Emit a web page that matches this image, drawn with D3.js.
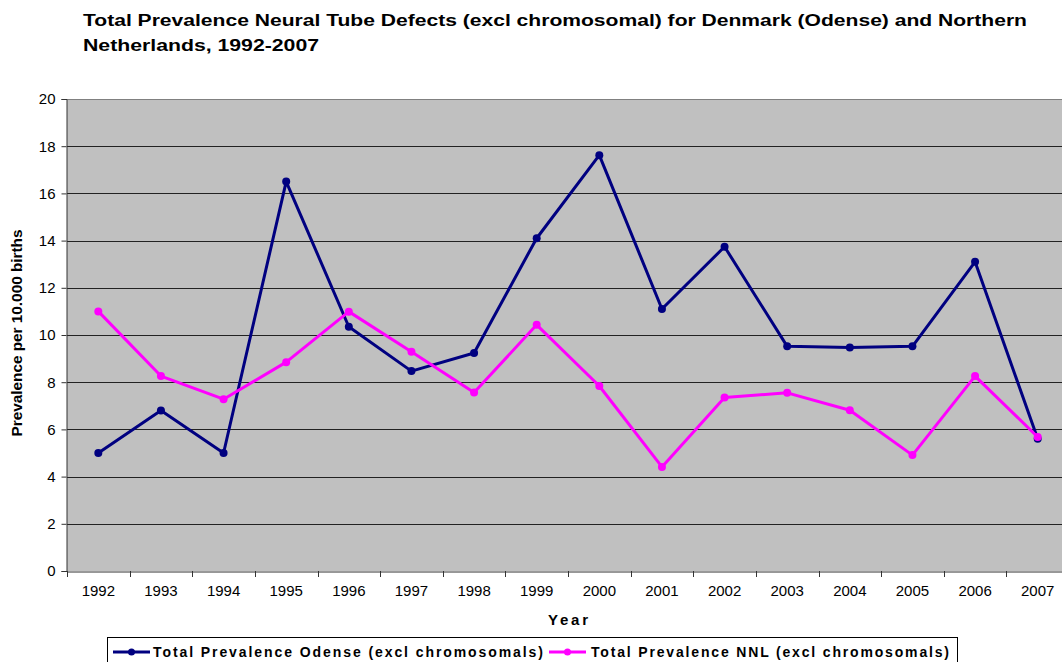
<!DOCTYPE html>
<html>
<head>
<meta charset="utf-8">
<title>Neural Tube Defects</title>
<style>
    body { margin: 0; background: #fff; font-family: "Liberation Sans", Arial, sans-serif; }
    svg text { fill: #000; }
</style>
<script src="https://d3js.org/d3.v7.min.js"></script>
</head>
<body>
<svg id="chart" width="1062" height="662"></svg>
<script>
var years = ["1992", "1993", "1994", "1995", "1996", "1997", "1998", "1999",
             "2000", "2001", "2002", "2003", "2004", "2005", "2006", "2007"];
var odense = [5.0, 6.8, 5.0, 16.5, 10.35, 8.47, 9.24, 14.1, 17.62, 11.1, 13.74, 9.52, 9.47, 9.52, 13.1, 5.6];
var nnl = [11.0, 8.26, 7.28, 8.85, 10.99, 9.29, 7.56, 10.43, 7.84, 4.41, 7.35, 7.55, 6.81, 4.91, 8.26, 5.68];
var yTicks = [0, 2, 4, 6, 8, 10, 12, 14, 16, 18, 20];
var seriesNames = ["Total Prevalence Odense (excl chromosomals)", "Total Prevalence NNL (excl chromosomals)"];
var seriesColors = ["#000080", "#ff00ff"];

var svg = d3.select("#chart");
var plot = { left: 67, top: 99, right: 1069, bottom: 571 };

var x = d3.scaleBand().domain(years).range([plot.left, plot.right]);
var y = d3.scaleLinear().domain([0, 20]).range([plot.bottom, plot.top]);

// title
var title = svg.append("text")
    .attr("x", 83)
    .attr("font-size", "16px")
    .attr("font-weight", "bold");
title.append("tspan").attr("x", 83).attr("y", 26)
    .attr("textLength", 944).attr("lengthAdjust", "spacingAndGlyphs")
    .text("Total Prevalence Neural Tube Defects (excl chromosomal) for Denmark (Odense) and Northern");
title.append("tspan").attr("x", 83).attr("y", 51)
    .attr("textLength", 236).attr("lengthAdjust", "spacingAndGlyphs")
    .text("Netherlands, 1992-2007");

// plot background
svg.append("rect")
    .attr("x", plot.left)
    .attr("y", plot.top)
    .attr("width", plot.right - plot.left)
    .attr("height", plot.bottom - plot.top)
    .attr("fill", "#c0c0c0");

// gridlines
svg.append("g")
    .selectAll("line")
    .data(yTicks.filter(function(d) { return d > 0; }))
    .enter()
    .append("line")
    .attr("x1", plot.left)
    .attr("x2", plot.right)
    .attr("y1", function(d) { return Math.round(y(d)) + 0.5; })
    .attr("y2", function(d) { return Math.round(y(d)) + 0.5; })
    .attr("stroke", function(d) { return d == 20 ? "#808080" : "#222"; })
    .attr("stroke-width", 1);

// y axis
var yAxis = svg.append("g")
    .attr("transform", "translate(" + (plot.left - 0.5) + ",0)")
    .call(d3.axisLeft(y).tickValues(yTicks).tickSize(5).tickPadding(6));
yAxis.selectAll("path, line").attr("stroke", "#333");
yAxis.selectAll("text")
    .attr("font-family", "Liberation Sans, Arial, sans-serif")
    .attr("font-size", "15px")
    .attr("fill", "#000");

// x axis
var xAxis = svg.append("g")
    .attr("transform", "translate(0," + (plot.bottom + 0.5) + ")")
    .call(d3.axisBottom(x).tickSize(0).tickPadding(14));
xAxis.select(".domain").attr("stroke", "#333");
xAxis.selectAll("text")
    .attr("font-family", "Liberation Sans, Arial, sans-serif")
    .attr("font-size", "15px")
    .attr("fill", "#000");

// category boundary ticks
svg.append("g")
    .selectAll("line")
    .data(years)
    .enter()
    .append("line")
    .attr("x1", function(d) { return Math.round(x(d)) + 0.5; })
    .attr("x2", function(d) { return Math.round(x(d)) + 0.5; })
    .attr("y1", plot.bottom)
    .attr("y2", plot.bottom + 6)
    .attr("stroke", "#333");

// axis titles
svg.append("text")
    .attr("x", 568)
    .attr("y", 625)
    .attr("text-anchor", "middle")
    .attr("font-size", "15px")
    .attr("font-weight", "bold")
    .attr("textLength", 40)
    .attr("lengthAdjust", "spacing")
    .text("Year");

svg.append("text")
    .attr("transform", "translate(22,333) rotate(-90)")
    .attr("text-anchor", "middle")
    .attr("font-size", "14px")
    .attr("font-weight", "bold")
    .attr("textLength", 207)
    .attr("lengthAdjust", "spacingAndGlyphs")
    .text("Prevalence per 10.000 births");

// series
var series = [odense, nnl];
var line = d3.line()
    .x(function(d, i) { return x(years[i]) + x.bandwidth() / 2; })
    .y(function(d) { return y(d); });

series.forEach(function(values, s) {
    var g = svg.append("g");
    g.append("path")
        .datum(values)
        .attr("d", line)
        .attr("fill", "none")
        .attr("stroke", seriesColors[s])
        .attr("stroke-width", 3)
        .attr("stroke-linejoin", "round");
    g.selectAll("circle")
        .data(values)
        .enter()
        .append("circle")
        .attr("cx", function(d, i) { return x(years[i]) + x.bandwidth() / 2; })
        .attr("cy", function(d) { return y(d); })
        .attr("r", 4)
        .attr("fill", seriesColors[s]);
});

// legend
var legend = svg.append("g");
legend.append("rect")
    .attr("x", 107.5)
    .attr("y", 637.5)
    .attr("width", 850)
    .attr("height", 40)
    .attr("fill", "#fff")
    .attr("stroke", "#000");

var legendItems = [
    { sx: 113, tx: 153, tw: 390 },
    { sx: 549, tx: 591, tw: 358 }
];
legendItems.forEach(function(item, s) {
    legend.append("line")
        .attr("x1", item.sx).attr("x2", item.sx + 37)
        .attr("y1", 652).attr("y2", 652)
        .attr("stroke", seriesColors[s])
        .attr("stroke-width", 3);
    legend.append("circle")
        .attr("cx", item.sx + 18.5).attr("cy", 652).attr("r", 3.5)
        .attr("fill", seriesColors[s]);
    legend.append("text")
        .attr("x", item.tx)
        .attr("y", 657)
        .attr("font-size", "14px")
        .attr("font-weight", "bold")
        .attr("textLength", item.tw)
        .attr("lengthAdjust", "spacing")
        .text(seriesNames[s]);
});
</script>
</body>
</html>
